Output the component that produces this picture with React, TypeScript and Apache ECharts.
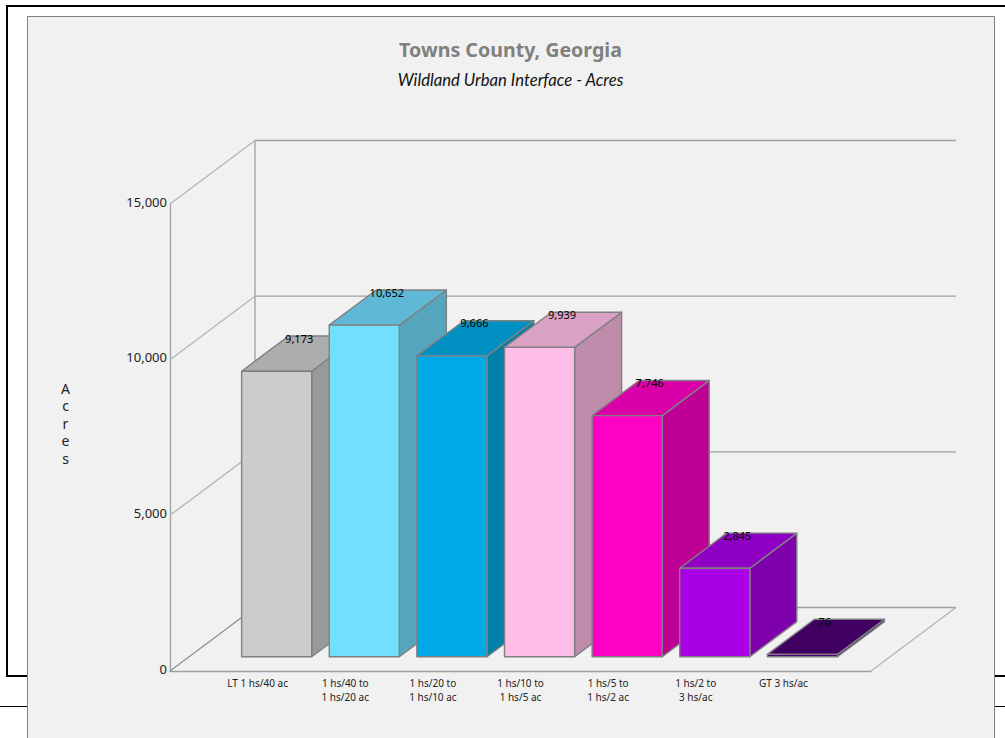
import React, { useEffect, useRef } from "react";
import * as echarts from "echarts";

const chartTitle = "Towns County, Georgia";
const chartSubtitle = "Wildland Urban Interface - Acres";
const yAxisLetters = ["A", "c", "r", "e", "s"];

const categories = [
  "LT 1 hs/40 ac",
  "1 hs/40 to\n1 hs/20 ac",
  "1 hs/20 to\n1 hs/10 ac",
  "1 hs/10 to\n1 hs/5 ac",
  "1 hs/5 to\n1 hs/2 ac",
  "1 hs/2 to\n3 hs/ac",
  "GT 3 hs/ac",
];
const acres = [9173, 10652, 9666, 9939, 7746, 2845, 76];
const yTicks = [0, 5000, 10000, 15000];

const frontColors = ["#cccccc", "#73dfff", "#00a9e6", "#ffbee8", "#ff00c5", "#a900e6", "#4c0073"];
const topColors = ["#adadad", "#5fb9d6", "#0090c2", "#d9a2c5", "#d900a8", "#8f00c4", "#400061"];
const sideColors = ["#999999", "#56a5bf", "#007fa8", "#bd8cab", "#bf0094", "#7f00ad", "#39005a"];

// Pseudo-3D projection: how far the back wall sits from the front plane.
const DEPTH_X = 85;
const DEPTH_Y = -63.5;
// Bars occupy the middle of the floor's depth and 80% of a category band.
const BAR_NEAR = 0.224;
const BAR_FAR = 0.777;
const BAR_BAND = 0.8;

const LINE = "#a0a0a0";
const BAR_EDGE = "#808080";
const FONT = '"Noto Sans", "Open Sans", sans-serif';

const slots = ["", ...categories, ""];

const line = (x1: number, y1: number, x2: number, y2: number, stroke = LINE) => ({
  type: "line",
  shape: { x1, y1, x2, y2 },
  style: { stroke, lineWidth: 1.3 },
});

function renderWalls(params: any, api: any) {
  const v = api.value(1);
  const last = slots.length - 1;
  const [fx, fy] = api.coord([0, v]);
  const [rx] = api.coord([last, v]);
  const children: any[] = [
    line(fx, fy, fx + DEPTH_X, fy + DEPTH_Y, v === 0 ? "#909090" : "#b4b4b4"),
    line(fx + DEPTH_X, fy + DEPTH_Y, rx + DEPTH_X, fy + DEPTH_Y, "#a0a0a0"),
  ];
  if (v === 0) {
    // Right edge of the floor.
    children.push(line(rx, fy, rx + DEPTH_X, fy + DEPTH_Y, "#b4b4b4"));
  }
  if (v === yTicks[yTicks.length - 1]) {
    // Vertical corner where the two walls meet.
    const [, by] = api.coord([0, 0]);
    children.push(line(fx + DEPTH_X, by + DEPTH_Y, fx + DEPTH_X, fy + DEPTH_Y, "#a0a0a0"));
  }
  return { type: "group", children };
}

function renderBar(params: any, api: any) {
  const i = params.dataIndex;
  const v = api.value(1);
  const [cx, topY] = api.coord([api.value(0), v]);
  const [, baseY] = api.coord([api.value(0), 0]);
  const half = (api.size([1, 0])[0] * BAR_BAND) / 2;

  const nx = DEPTH_X * BAR_NEAR;
  const ny = DEPTH_Y * BAR_NEAR;
  const dx = DEPTH_X * (BAR_FAR - BAR_NEAR);
  const dy = DEPTH_Y * (BAR_FAR - BAR_NEAR);

  const l = cx - half + nx;
  const r = cx + half + nx;
  const t = topY + ny;
  const b = baseY + ny;
  const edge = { stroke: BAR_EDGE, lineWidth: 1.4, lineJoin: "round" };

  return {
    type: "group",
    children: [
      {
        type: "polygon",
        shape: { points: [[r, t], [r + dx, t + dy], [r + dx, b + dy], [r, b]] },
        style: { fill: sideColors[i], ...edge },
      },
      {
        type: "polygon",
        shape: { points: [[l, t], [l + dx, t + dy], [r + dx, t + dy], [r, t]] },
        style: { fill: topColors[i], ...edge },
      },
      {
        type: "polygon",
        shape: { points: [[l, t], [r, t], [r, b], [l, b]] },
        style: { fill: frontColors[i], ...edge },
      },
      {
        type: "text",
        z2: 100,
        x: (l + r) / 2 + dx / 2 - 1,
        y: t + dy + 2,
        style: {
          text: v.toLocaleString("en-US"),
          fill: "#000000",
          fontFamily: FONT,
          fontSize: 11,
          align: "center",
          verticalAlign: "middle",
        },
      },
    ],
  };
}

export default function App() {
  const ref = useRef<HTMLDivElement>(null);

  useEffect(() => {
    const chart = echarts.init(ref.current!, null, { renderer: "svg" });
    chart.setOption({
      animation: false,
      backgroundColor: "#ffffff",
      graphic: [
        // Frame and rules of the surrounding page, then the chart panel on top of them.
        {
          type: "rect",
          z: 0,
          shape: { x: 7, y: 6, width: 1010, height: 670 },
          style: { fill: "#ffffff", stroke: "#000000", lineWidth: 2 },
        },
        {
          type: "line",
          z: 0,
          shape: { x1: 0, y1: 706.5, x2: 1005, y2: 706.5 },
          style: { stroke: "#000000", lineWidth: 1 },
        },
        {
          type: "rect",
          z: 0,
          shape: { x: 27.5, y: 16.5, width: 967, height: 740 },
          style: { fill: "#f1f1f1", stroke: "#808080", lineWidth: 1 },
        },
        // Axis title, stacked letter by letter.
        {
          type: "text",
          z: 5,
          x: 65.5,
          y: 423,
          style: {
            text: yAxisLetters.join("\n"),
            fill: "#222222",
            fontFamily: FONT,
            fontSize: 14,
            lineHeight: 17.5,
            align: "center",
            verticalAlign: "middle",
          },
        },
      ],
      title: {
        text: chartTitle,
        subtext: chartSubtitle,
        left: 505.5,
        top: 34,
        textAlign: "center",
        itemGap: 12,
        textStyle: { fontFamily: FONT, fontSize: 19.6, fontWeight: "bold", color: "#808080" },
        subtextStyle: { fontFamily: "Lato, " + FONT, fontSize: 16.7, fontStyle: "italic", color: "#111111" },
      },
      grid: { left: 170, top: 204, width: 701, height: 467 },
      xAxis: {
        type: "category",
        data: slots,
        boundaryGap: false,
        axisTick: { show: false },
        axisLine: { lineStyle: { color: LINE, width: 1.3 } },
        axisLabel: {
          interval: 0,
          margin: 5,
          fontFamily: FONT,
          fontSize: 10,
          lineHeight: 14,
          color: "#222222",
        },
      },
      yAxis: {
        type: "value",
        min: 0,
        max: 15000,
        interval: 5000,
        splitLine: { show: false },
        axisTick: { show: false },
        axisLine: { show: true, lineStyle: { color: LINE, width: 1.3 } },
        axisLabel: {
          margin: 3,
          fontFamily: FONT,
          fontSize: 13,
          color: "#222222",
          verticalAlign: "bottom",
          lineHeight: 5,
          formatter: (v: number) => v.toLocaleString("en-US"),
        },
      },
      series: [
        {
          type: "custom",
          name: "walls",
          z: 1,
          silent: true,
          renderItem: renderWalls,
          encode: { x: 0, y: 1 },
          data: yTicks.map((v) => [0, v]),
        },
        {
          type: "custom",
          name: "Acres",
          z: 2,
          silent: true,
          renderItem: renderBar,
          encode: { x: 0, y: 1 },
          data: categories.map((c, i) => [c, acres[i]]),
        },
      ],
    });
    return () => chart.dispose();
  }, []);

  return (
    <div
      ref={ref}
      style={{ position: "fixed", left: 0, top: 0, width: 1005, height: 738, overflow: "hidden" }}
    />
  );
}
